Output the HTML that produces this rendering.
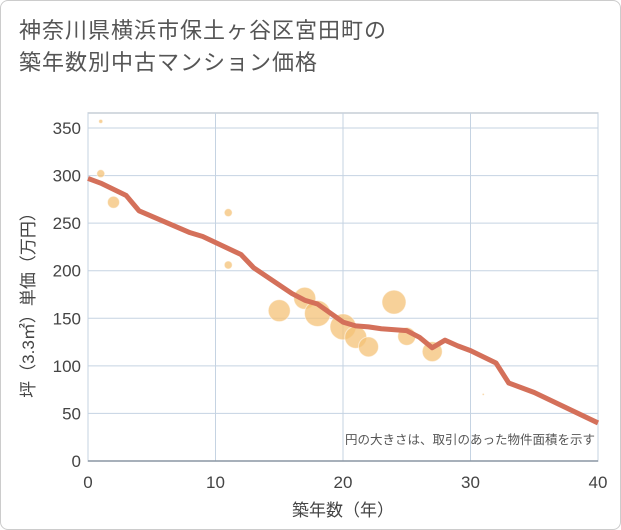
<!DOCTYPE html>
<html><head><meta charset="utf-8">
<style>
body{margin:0;background:#fff;}
#wrap{position:relative;width:619px;height:528px;border:1px solid #ccc;border-radius:8px;background:#fff;overflow:hidden;font-family:"Liberation Sans","Noto Sans CJK JP",sans-serif;}
#title{position:absolute;left:18px;top:14px;font-size:22px;line-height:32px;color:#555;letter-spacing:1px;}
svg{position:absolute;left:0;top:0;}
</style></head><body>
<div id="wrap">
<div id="title">神奈川県横浜市保土ヶ谷区宮田町の<br>築年数別中古マンション価格</div>
<svg id="chart" width="621" height="530"></svg>
</div>
<script>
const xTicks=[0,10,20,30,40];
const yTicks=[0,50,100,150,200,250,300,350];
const lineYears=[0,1,3,4,8,9,12,13,16,17,18,20,21,22,23,25,26,27,28,29,30,32,33,35,40];
const linePrices=[297,292,279,263,240,236,217,203,176,169,165,146,142,141,139,137,130,119,127,121,116,103,82,72,40];
const bubbleYears=[1,1,2,11,11,15,17,18,20,21,22,24,25,27,31];
const bubblePrices=[357,302,272,261,206,158,171,155,141,130,120,167,131,115,70];
const bubbleSizes=[2,4,6,4,4,11,11,13,13,11,10,12,9,10,1];
const NS="http://www.w3.org/2000/svg";
const svg=document.getElementById('chart');
const X0=87,X1=597,Y0=460,Y1=127;
const xs=v=>X0+(X1-X0)*v/40;
const ys=v=>Y0-(Y0-Y1)*v/350;
function mk(t,a){const e=document.createElementNS(NS,t);for(const k in a)e.setAttribute(k,a[k]);svg.appendChild(e);return e;}
const bg=mk('rect',{x:X0,y:112,width:X1-X0,height:Y0-112,fill:'#fff',stroke:'#aab4c0'});


xTicks.forEach(t=>{
  const g=mk('line',{x1:xs(t),x2:xs(t),y1:112,y2:Y0,stroke:'#c5d3e2'});
  
  
  const l=mk('text',{x:xs(t),y:487,'text-anchor':'middle','font-size':17,fill:'#444'});
  l.textContent=t;
  
  
});
yTicks.forEach(t=>{
  const g=mk('line',{x1:X0,x2:X1,y1:ys(t),y2:ys(t),stroke:'#c5d3e2'});
  
  
  const l=mk('text',{x:80,y:ys(t)+6,'text-anchor':'end','font-size':17,fill:'#444'});
  l.textContent=t;
  
  
});
const ax=mk('line',{x1:X0,x2:X1,y1:Y0,y2:Y0,stroke:'#8a96a3','stroke-width':1.5});


bubbleYears.forEach((yr,i)=>{
  const c=mk('circle',{cx:xs(yr),cy:ys(bubblePrices[i]),r:bubbleSizes[i],fill:'#f4c177','fill-opacity':0.75,stroke:'#fff','stroke-opacity':0.5});
  
  
});
const pts=lineYears.map((yr,i)=>xs(yr)+','+ys(linePrices[i])).join(' ');
const pl=mk('polyline',{points:pts,fill:'none',stroke:'#d4705a','stroke-width':5,'stroke-linejoin':'round'});


const note=mk('text',{x:594,y:443,'text-anchor':'end','font-size':12.5,fill:'#555'});
note.textContent='円の大きさは、取引のあった物件面積を示す';


const xt=mk('text',{x:342,y:515,'text-anchor':'middle','font-size':17,fill:'#444'});
xt.textContent='築年数（年）';


const yt=mk('text',{x:0,y:0,'text-anchor':'middle','font-size':17,fill:'#444',transform:'translate(33,300) rotate(-90)'});
yt.textContent='坪（3.3㎡）単価（万円）';


</script>
</body></html>
